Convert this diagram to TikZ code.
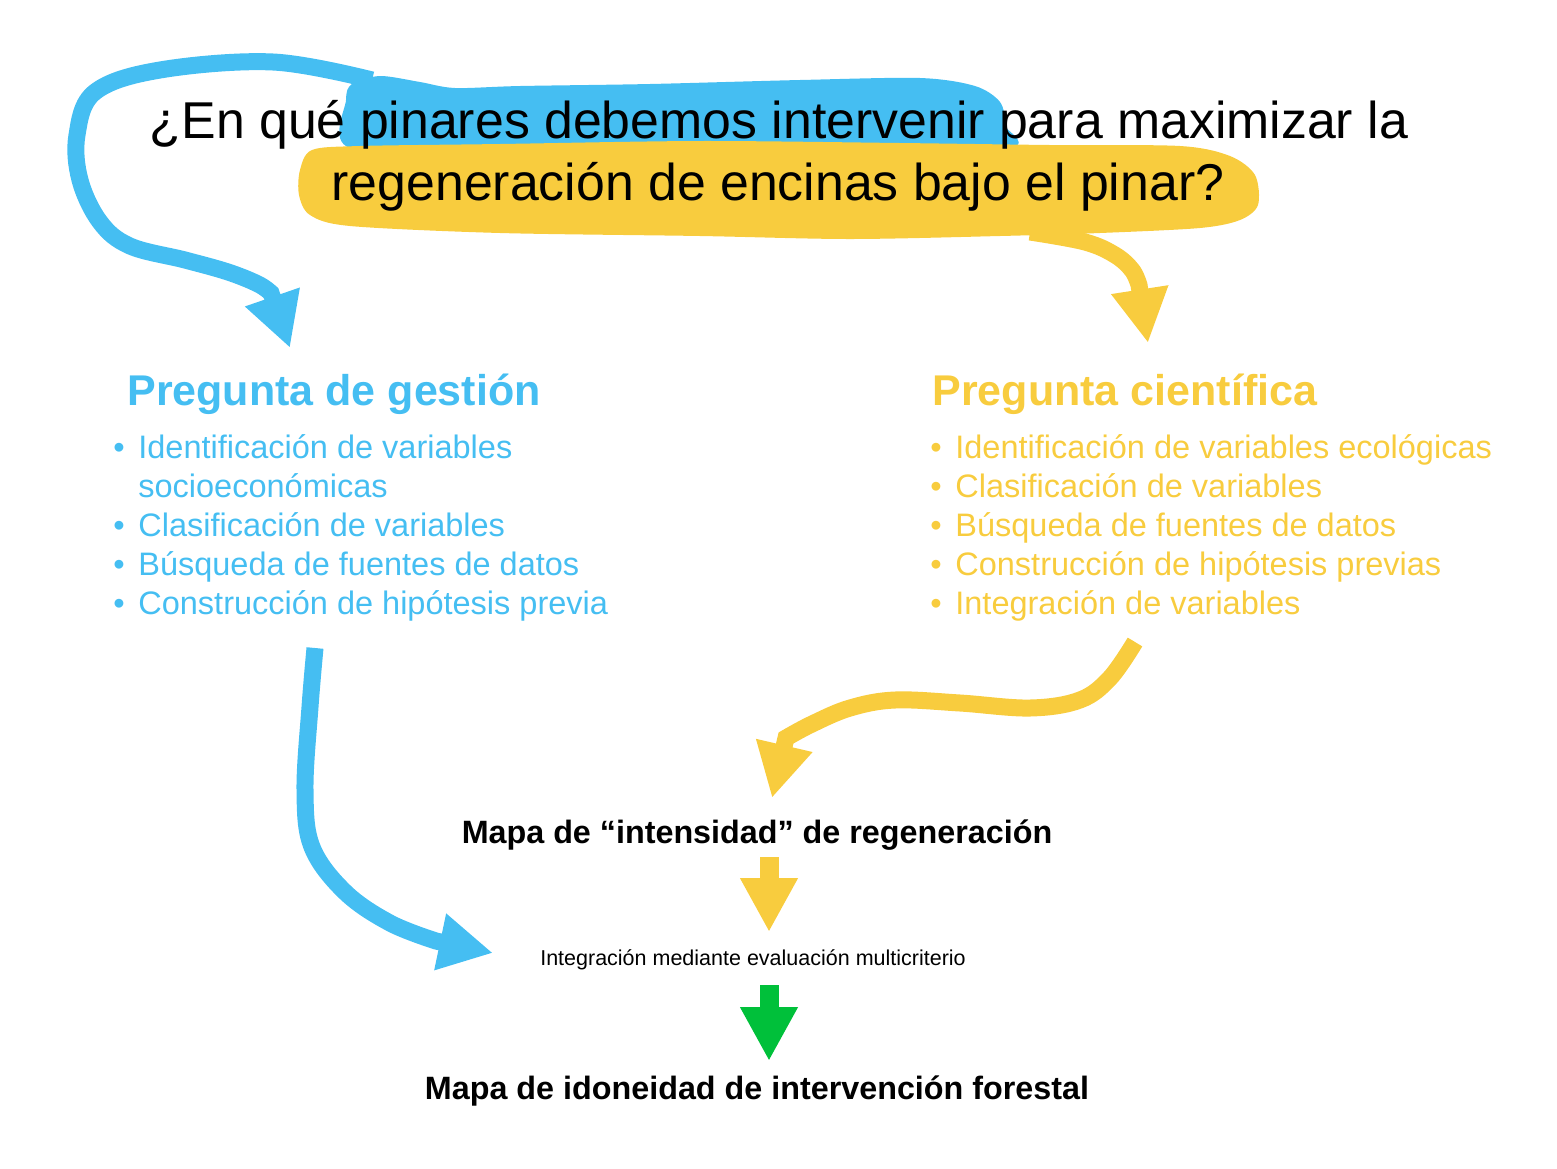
\documentclass[tikz,border=0pt]{standalone}
\usepackage{fontspec}
\setmainfont{Liberation Sans}
\usetikzlibrary{arrows.meta}

\definecolor{gestblue}{RGB}{69,190,242}
\definecolor{cienyellow}{RGB}{248,204,62}
\definecolor{mapgreen}{RGB}{0,192,58}

\newcommand{\itemfont}{\fontsize{16.25pt}{19.5pt}\selectfont}

\begin{document}
\begin{tikzpicture}[x=0.5pt,y=-0.5pt,
  question/.style={anchor=base,inner sep=0pt,font=\fontsize{25.9pt}{30pt}\selectfont},
  heading/.style={anchor=base west,inner sep=0pt,font=\bfseries\fontsize{21.5pt}{25pt}\selectfont},
  item list/.style={anchor=base west,inner sep=0pt,font=\itemfont},
  map node/.style={anchor=base,inner sep=0pt,font=\bfseries\fontsize{16.15pt}{19pt}\selectfont},
  marker arrow/.style={line width=8.5pt,-{Triangle[length=27pt,width=27pt]}},
  block arrow/.style={line width=9.5pt,-{Triangle[length=27pt,width=27pt]}}]

  \useasboundingbox (0,0) rectangle (1557,1168);

  % marker highlights behind the question
  \fill[gestblue] plot[smooth cycle,tension=0.5] coordinates {(346,100) (352,84) (380,76) (420,82) (455,88) (520,86) (650,84) (800,80) (920,78) (975,86) (1000,102) (1005,125) (998,150) (700,150) (500,150) (350,148)};
  \coordinate (blue start) at (372,80);
  \coordinate (gestion tip) at (290,348);
  \draw[marker arrow,gestblue] plot[smooth,tension=0.6] coordinates {(blue start) (273,62) (160,70) (95,92) (77,135) (80,180) (100,222) (130,246) (185,260) (228,272) (258,284) (271,293)} -- (gestion tip);

  \fill[cienyellow] plot[smooth cycle,tension=0.5] coordinates {(300,170) (312,150) (360,146) (500,144) (700,141) (900,143) (1050,145) (1180,146) (1230,156) (1255,175) (1258,205) (1240,220) (1200,228) (1100,233) (1000,236) (850,239) (700,236) (500,233) (350,226) (310,215) (299,195)};
  \coordinate (yellow start) at (1030,232);
  \coordinate (cientifica tip) at (1148,343);
  \draw[marker arrow,cienyellow] plot[smooth,tension=0.6] coordinates {(yellow start) (1085,242) (1115,255) (1132,270) (1139,285)} -- (cientifica tip);

  % question
  \node[question] (qtop) at (779,138) {¿En qué pinares debemos intervenir para maximizar la};
  \node[question] (qbottom) at (778,200) {regeneración de encinas bajo el pinar?};

  % the two questions
  \node[heading,gestblue] (gestion) at (127,405) {Pregunta de gestión};
  \node[heading,cienyellow] (cientifica) at (932,405) {Pregunta científica};

  \node[item list,gestblue] (gestion list) at (113,458) {\begin{tabular}[t]{@{}l@{\hspace{6.8pt}}l@{}}
    • & Identificación de variables\\
      & socioeconómicas\\
    • & Clasificación de variables\\
    • & Búsqueda de fuentes de datos\\
    • & Construcción de hipótesis previa
  \end{tabular}};
  \node[item list,cienyellow] (cientifica list) at (930,458) {\begin{tabular}[t]{@{}l@{\hspace{6.8pt}}l@{}}
    • & Identificación de variables ecológicas\\
    • & Clasificación de variables\\
    • & Búsqueda de fuentes de datos\\
    • & Construcción de hipótesis previas\\
    • & Integración de variables
  \end{tabular}};

  % results
  \node[map node] (intensidad) at (757,843) {Mapa de “intensidad” de regeneración};
  \node[anchor=base,inner sep=0pt,font=\fontsize{10.75pt}{13pt}\selectfont] (integracion) at (753,965) {Integración mediante evaluación multicriterio};
  \node[map node] (idoneidad) at (757,1099) {Mapa de idoneidad de intervención forestal};

  \coordinate (gestion out) at (315,648);
  \coordinate (integracion in) at (493,953);
  \draw[marker arrow,gestblue] plot[smooth,tension=0.6] coordinates {(gestion out) (310,707) (305,790) (312,847) (345,892) (390,923) (436,941)} -- (integracion in);

  \coordinate (cientifica out) at (1135,642);
  \coordinate (intensidad in) at (772,798);
  \draw[marker arrow,cienyellow] plot[smooth,tension=0.6] coordinates {(cientifica out) (1110,678) (1080,700) (1030,708) (960,703) (895,700) (850,708) (812,724) (786,738)} -- (intensidad in);

  \coordinate (yellow top) at (769,857);
  \coordinate (yellow bottom) at (769,932);
  \coordinate (green top) at (769,985);
  \coordinate (green bottom) at (769,1061);
  \draw[block arrow,cienyellow] (yellow top) -- (yellow bottom);
  \draw[block arrow,mapgreen] (green top) -- (green bottom);

\end{tikzpicture}
\end{document}
